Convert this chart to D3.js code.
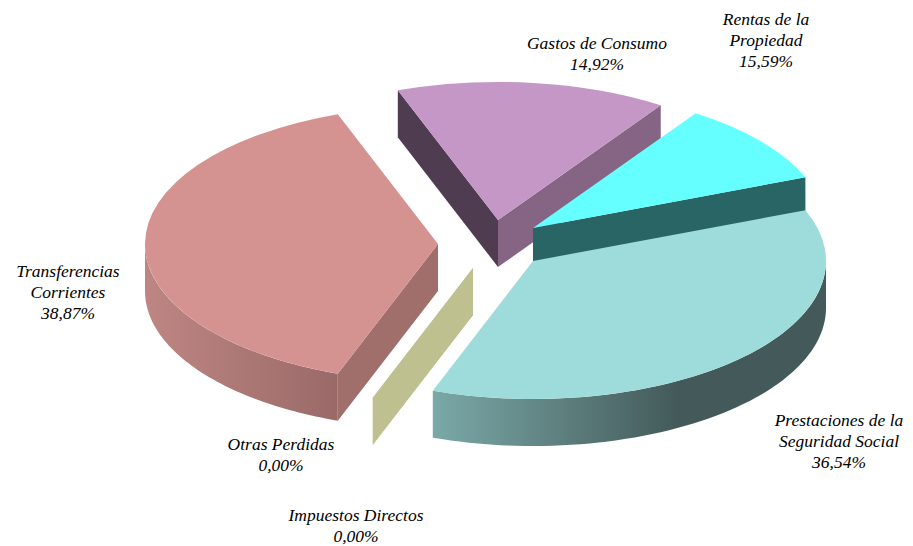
<!DOCTYPE html>
<html><head><meta charset="utf-8">
<script src="https://cdn.jsdelivr.net/npm/d3@7"></script>
<style>html,body{margin:0;background:#fff}svg{display:block}text{font-family:"Liberation Serif",serif;font-style:italic;font-size:17.5px;fill:#000;text-anchor:middle}</style>
</head><body><svg id="c" width="913" height="546"></svg>
<script>
// Drawn shares (Rentas is drawn smaller than its printed label says, as in the source picture)
const categories = ["Transferencias Corrientes","Gastos de Consumo","Rentas de la Propiedad","Prestaciones de la Seguridad Social","Otras Perdidas","Impuestos Directos"];
const drawnShares = [38.87,14.92,9.62,36.54,0,0];
const printedShares = ["38,87%","14,92%","15,59%","36,54%","0,00%","0,00%"];
const labelLines = [["Transferencias","Corrientes"],["Gastos de Consumo"],["Rentas de la","Propiedad"],["Prestaciones de la","Seguridad Social"],["Otras Perdidas"],["Impuestos Directos"]];
const labelX = [68,597,766,839,281,356];
const labelY = [277,49,25,426,450,521];
const topColors = ["#d49390","#c497c6","#66ffff","#9edcdb","#bfc08f","#bfc08f"];
const cutColors = ["#a06e6b","#866584","#2a6565","#3f5a5a","#bfc08f","#bfc08f"];
const startCutColors = ["#a06e6b","#503c50","#2a6565","#3f5a5a","#bfc08f","#bfc08f"];
const wallStops = [[["#be8683",0],["#9a6a68",1]],null,null,[["#7aa9a8",0],["#445a5a",.62],["#445a5a",1]],null,null];
const sliceCentreX = [438,498,533,533,473,473];
const sliceCentreY = [244,220,228,261,268,268];

const rx=293, ry=138, depth=47, startDeg=200;
const svg=d3.select("#c"), defs=svg.append("defs");
const pie=d3.pie().sort(null).startAngle(startDeg*Math.PI/180).endAngle((startDeg+360)*Math.PI/180);
const arcs=pie(drawnShares);
const arc=d3.arc().innerRadius(0).outerRadius(rx);
const px=(i,t)=>sliceCentreX[i]+rx*Math.sin(t), py=(i,t)=>sliceCentreY[i]-ry*Math.cos(t);
const line=d3.line();
const drawOrder=[5,4,0,1,2,3];

drawOrder.forEach(i=>{
  const d=arcs[i], g=svg.append("g");
  const cut=(t,col)=>g.append("path").attr("fill",col).attr("d",line([
    [sliceCentreX[i],sliceCentreY[i]],[px(i,t),py(i,t)],[px(i,t),py(i,t)+depth],[sliceCentreX[i],sliceCentreY[i]+depth]])+"Z");
  if(Math.sin(d.startAngle)<0) cut(d.startAngle,startCutColors[i]);
  if(Math.sin(d.endAngle)>0 && d.endAngle>d.startAngle) cut(d.endAngle,cutColors[i]);
  // outer wall: front part of the rim only
  if(wallStops[i]){
    const t0=Math.max(d.startAngle%(2*Math.PI),Math.PI/2), e=d.startAngle%(2*Math.PI)+(d.endAngle-d.startAngle);
    const t1=Math.min(e,3*Math.PI/2);
    const ts=d3.range(0,61).map(k=>d3.interpolateNumber(t0,t1)(k/60));
    const ext=d3.extent(ts,t=>px(i,t));
    const id="w"+i;
    const lg=defs.append("linearGradient").attr("id",id).attr("gradientUnits","userSpaceOnUse")
      .attr("x1",ext[0]).attr("x2",ext[1]).attr("y1",0).attr("y2",0);
    wallStops[i].forEach(s=>lg.append("stop").attr("offset",s[1]).attr("stop-color",s[0]));
    g.append("path").attr("fill",`url(#${id})`).attr("d",d3.area().x(t=>px(i,t)).y0(t=>py(i,t)).y1(t=>py(i,t)+depth)(ts));
  }
  if(d.endAngle>d.startAngle)
    g.append("path").attr("fill",topColors[i]).attr("d",arc(d))
      .attr("transform",`translate(${sliceCentreX[i]},${sliceCentreY[i]}) scale(1,${ry/rx})`);
});

categories.forEach((c,i)=>{
  const t=svg.append("text").attr("x",labelX[i]).attr("y",labelY[i]);
  [...labelLines[i],printedShares[i]].forEach((s,k)=>t.append("tspan").attr("x",labelX[i]).attr("dy",k?21:0).text(s));
});
</script></body></html>
